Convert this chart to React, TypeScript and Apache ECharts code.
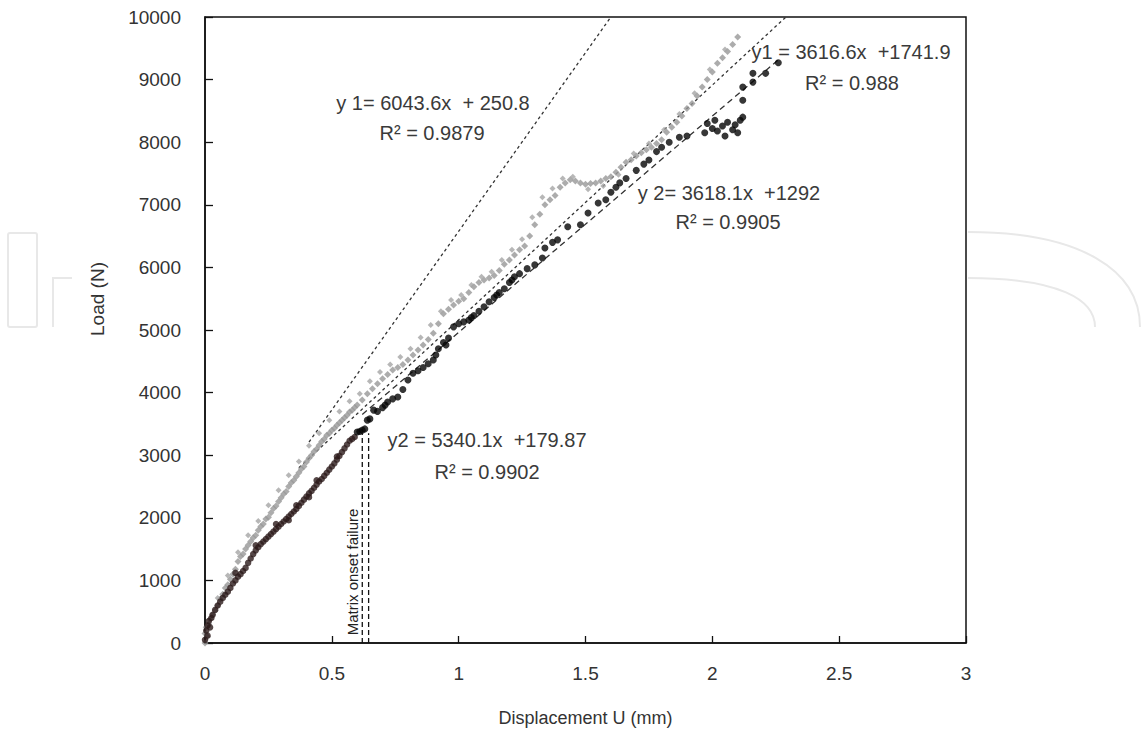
import React, { useEffect, useRef } from "react";
import * as echarts from "echarts";

// Series 1 (grey markers): [displacement mm, load N]
const greySeries: number[][] = [
  [0.0, 0], [0.0, 150], [0.005, 250], [0.01, 100], [0.015, 300], [0.02, 380], [0.03, 450], [0.04, 520],
  [0.05, 600], [0.06, 700], [0.07, 780], [0.08, 880], [0.09, 930], [0.1, 1020], [0.11, 1100], [0.12, 1180],
  [0.13, 1300], [0.14, 1380], [0.15, 1420], [0.16, 1500], [0.17, 1560], [0.18, 1620], [0.19, 1680], [0.2, 1720],
  [0.21, 1800], [0.22, 1860], [0.23, 1900], [0.24, 1980], [0.25, 2010], [0.26, 2080], [0.27, 2150], [0.28, 2190],
  [0.29, 2260], [0.3, 2320], [0.31, 2380], [0.32, 2420], [0.33, 2500], [0.34, 2560], [0.35, 2600], [0.36, 2660],
  [0.37, 2720], [0.38, 2780], [0.39, 2820], [0.4, 2890], [0.41, 2950], [0.42, 3000], [0.43, 3060], [0.44, 3100],
  [0.45, 3160], [0.46, 3220], [0.47, 3260], [0.48, 3320], [0.49, 3350], [0.5, 3400], [0.51, 3430], [0.52, 3480],
  [0.53, 3520], [0.54, 3560], [0.55, 3600], [0.56, 3640], [0.57, 3690], [0.58, 3720], [0.59, 3760], [0.6, 3800],
  [0.62, 3880], [0.64, 3980], [0.66, 4060], [0.68, 4140], [0.7, 4220], [0.72, 4290], [0.74, 4360], [0.76, 4400],
  [0.78, 4450], [0.8, 4520], [0.82, 4600], [0.84, 4680], [0.86, 4760], [0.88, 4850], [0.9, 4950], [0.92, 5100],
  [0.94, 5260], [0.96, 5330], [0.98, 5400], [1.0, 5460], [1.02, 5500], [1.04, 5600], [1.06, 5690], [1.08, 5760],
  [1.1, 5800], [1.12, 5830], [1.14, 5870], [1.16, 5950], [1.18, 6050], [1.2, 6120], [1.22, 6200], [1.24, 6280],
  [1.26, 6340], [1.28, 6500], [1.3, 6680], [1.32, 6850], [1.34, 7000], [1.36, 7080], [1.38, 7150], [1.4, 7280],
  [1.42, 7350], [1.44, 7400], [1.46, 7380], [1.48, 7350], [1.5, 7330], [1.52, 7340], [1.54, 7350], [1.56, 7380],
  [1.58, 7420], [1.6, 7450], [1.62, 7520], [1.64, 7600], [1.66, 7680], [1.68, 7720], [1.7, 7780], [1.72, 7830],
  [1.74, 7880], [1.76, 7920], [1.78, 7980], [1.8, 8040], [1.82, 8160], [1.84, 8240], [1.86, 8320], [1.88, 8420],
  [1.9, 8540], [1.92, 8620], [1.94, 8740], [1.96, 8880], [1.98, 9000], [2.0, 9120], [2.02, 9260], [2.04, 9350],
  [2.06, 9450], [2.08, 9560], [2.1, 9680],
];

// Series 1, scattered readings around the main band
const greyScatter: number[][] = [
  [0.05, 720], [0.09, 1080], [0.13, 1450], [0.17, 1720], [0.21, 1950], [0.25, 2200], [0.29, 2440],
  [0.33, 2680], [0.37, 2900], [0.41, 3150], [0.45, 3350], [0.49, 3560], [0.53, 3700], [0.57, 3860],
  [0.61, 3980], [0.65, 4180], [0.69, 4330], [0.73, 4450], [0.77, 4570], [0.81, 4700], [0.85, 4880],
  [0.89, 5080], [0.93, 5300], [0.97, 5480], [1.01, 5560], [1.05, 5720], [1.09, 5850], [1.13, 5930],
  [1.17, 6120], [1.21, 6280], [1.25, 6450], [1.29, 6800], [1.33, 7120], [1.37, 7260], [1.41, 7420],
  [1.45, 7450], [1.51, 7250], [1.57, 7300], [1.63, 7480], [1.69, 7820], [1.75, 7980], [1.81, 8200],
  [1.87, 8450], [1.93, 8780], [1.99, 9160], [2.05, 9480],
];

// Series 2, first part (dark brown markers)
const blackEarly: number[][] = [
  [0.0, 50], [0.005, 200], [0.01, 280], [0.01, 120], [0.015, 350], [0.02, 250], [0.025, 400], [0.03, 450],
  [0.04, 530], [0.05, 600], [0.06, 660], [0.07, 720], [0.08, 770], [0.09, 820], [0.1, 880], [0.11, 950],
  [0.12, 1000], [0.13, 1060], [0.14, 1100], [0.15, 1150], [0.16, 1200], [0.17, 1280], [0.18, 1350], [0.19, 1420],
  [0.2, 1480], [0.21, 1530], [0.22, 1580], [0.23, 1620], [0.24, 1660], [0.25, 1700], [0.26, 1740], [0.27, 1780],
  [0.28, 1820], [0.29, 1860], [0.3, 1900], [0.31, 1940], [0.32, 1980], [0.33, 2020], [0.34, 2060], [0.35, 2100],
  [0.36, 2140], [0.37, 2190], [0.38, 2240], [0.39, 2290], [0.4, 2340], [0.41, 2390], [0.42, 2430], [0.43, 2480],
  [0.44, 2530], [0.45, 2580], [0.46, 2620], [0.47, 2670], [0.48, 2720], [0.49, 2770], [0.5, 2820], [0.51, 2870],
  [0.52, 2930], [0.53, 2990], [0.54, 3050], [0.55, 3110], [0.56, 3170], [0.57, 3230], [0.58, 3260], [0.59, 3290],
  [0.12, 1120], [0.2, 1560], [0.28, 1900], [0.36, 2200], [0.44, 2600], [0.52, 2980], [0.33, 1960], [0.41, 2330],
];

// Series 2, after matrix onset failure (black markers)
const blackLate: number[][] = [
  [0.6, 3370], [0.61, 3380], [0.62, 3400], [0.63, 3420], [0.64, 3560], [0.65, 3580], [0.665, 3720], [0.68, 3700],
  [0.7, 3760], [0.72, 3850], [0.74, 3900], [0.76, 3930], [0.78, 4050], [0.8, 4200], [0.82, 4310], [0.84, 4350],
  [0.86, 4400], [0.88, 4460], [0.9, 4520], [0.92, 4700], [0.94, 4800], [0.96, 4870], [0.98, 5050], [1.0, 5100],
  [1.02, 5130], [1.04, 5160], [1.06, 5230], [1.08, 5300], [1.1, 5370], [1.12, 5450], [1.14, 5520], [1.16, 5600],
  [1.18, 5660], [1.2, 5760], [1.22, 5850], [1.24, 5900], [1.27, 5980], [1.3, 6040], [1.33, 6150], [1.34, 6310],
  [1.37, 6400], [1.39, 6440], [1.43, 6650], [1.48, 6680], [1.51, 6870], [1.55, 7030], [1.58, 7080], [1.6, 7200],
  [1.62, 7280], [1.635, 7350], [1.66, 7420], [1.7, 7550], [1.73, 7650], [1.75, 7715], [1.78, 7850], [1.8, 7920],
  [1.83, 8000], [1.87, 8080], [1.9, 8100], [1.97, 8150], [1.98, 8300], [2.0, 8220], [2.01, 8350], [2.02, 8180],
  [2.04, 8260], [2.05, 8100], [2.06, 8320], [2.08, 8200], [2.09, 8280], [2.1, 8150], [2.11, 8350], [2.12, 8400],
  [2.12, 8670], [2.12, 8880], [2.16, 8960], [2.16, 9100], [2.21, 9100], [2.26, 9270],
  [0.71, 3800], [0.91, 4600], [0.95, 4760], [1.05, 5200], [1.15, 5560], [1.21, 5800],
];

// Trend lines (end points as drawn)
const trendY1Initial: number[][] = [[0.41, 3210], [1.6, 10000]];
const trendY1Late: number[][] = [[0.37, 2800], [2.29, 10000]];
const trendY2Late: number[][] = [[0.62, 3650], [2.27, 9350]];
const onsetLineA: number[][] = [[0.62, 0], [0.62, 3350]];
const onsetLineB: number[][] = [[0.645, 0], [0.645, 3350]];

const xTicks = { min: 0, max: 3, interval: 0.5 };
const yTicks = { min: 0, max: 10000, interval: 1000 };

const annotations: { text: string; x: number; y: number }[] = [
  { text: "y 1= 6043.6x  + 250.8", x: 433, y: 103 },
  { text: "R\u00B2 = 0.9879", x: 432, y: 133 },
  { text: "y1 = 3616.6x  +1741.9", x: 851, y: 52 },
  { text: "R\u00B2 = 0.988", x: 852, y: 83 },
  { text: "y 2= 3618.1x  +1292", x: 729, y: 193 },
  { text: "R\u00B2 = 0.9905", x: 728, y: 222 },
  { text: "y2 = 5340.1x  +179.87", x: 487, y: 440 },
  { text: "R\u00B2 = 0.9902", x: 487, y: 472 },
];

const FONT = "Liberation Sans";

export default function App() {
  const ref = useRef<HTMLDivElement>(null);
  useEffect(() => {
    if (!ref.current) return;
    const chart = echarts.init(ref.current, undefined, { renderer: "svg" });
    const lineSeries = (data: number[][], type: any, color = "#333") => ({
      type: "line",
      data,
      symbol: "none",
      silent: true,
      z: 1,
      lineStyle: { color, width: 1.3, type },
    });
    const wm = "#e8e8e8";
    chart.setOption({
      animation: false,
      backgroundColor: "#fff",
      grid: {
        left: 205,
        top: 17,
        width: 761,
        height: 626,
        show: true,
        borderColor: "#111",
        borderWidth: 1.5,
        backgroundColor: "#fff",
      },
      xAxis: {
        type: "value",
        ...xTicks,
        name: "Displacement U (mm)",
        nameLocation: "middle",
        nameGap: 66,
        nameTextStyle: { fontFamily: FONT, fontSize: 18, color: "#333" },
        axisLine: { show: true, lineStyle: { color: "#111", width: 1.5 } },
        axisTick: { show: true, inside: true, length: 7, lineStyle: { color: "#111", width: 1.3 } },
        axisLabel: { fontFamily: FONT, fontSize: 19, color: "#333", margin: 21 },
        splitLine: { show: false },
      },
      yAxis: {
        type: "value",
        ...yTicks,
        axisLine: { show: true, lineStyle: { color: "#111", width: 1.5 } },
        axisTick: { show: true, inside: true, length: 8, lineStyle: { color: "#111", width: 1.3 } },
        axisLabel: { fontFamily: FONT, fontSize: 19, color: "#333", margin: 24, formatter: (v: number) => String(v) },
        splitLine: { show: false },
      },
      series: [
        lineSeries(trendY1Initial, [3, 3]),
        lineSeries(trendY1Late, [3, 3]),
        lineSeries(trendY2Late, [6, 4]),
        lineSeries(onsetLineA, [5, 3], "#111"),
        lineSeries(onsetLineB, [5, 3], "#111"),
        {
          type: "scatter",
          data: greySeries,
          symbol: "diamond",
          symbolSize: 7,
          itemStyle: { color: "#979797" },
          z: 2,
        },
        {
          type: "scatter",
          data: greyScatter,
          symbol: "diamond",
          symbolSize: 6,
          itemStyle: { color: "#a5a5a5" },
          z: 2,
        },
        {
          type: "scatter",
          data: blackEarly,
          symbol: "circle",
          symbolSize: 6.5,
          itemStyle: { color: "#2c1a1a" },
          z: 3,
        },
        {
          type: "scatter",
          data: blackLate,
          symbol: "circle",
          symbolSize: 7,
          itemStyle: { color: "#050505" },
          z: 3,
        },
      ],
      graphic: [
        { type: "rect", shape: { x: 8, y: 233, width: 29, height: 94, r: 2 }, style: { fill: "none", stroke: wm, lineWidth: 2 }, z: -10 },
        { type: "polyline", shape: { points: [[53, 327], [53, 278], [72, 278]] }, style: { fill: "none", stroke: wm, lineWidth: 2 }, z: -10 },
        { type: "bezierCurve", shape: { x1: 968, y1: 232, x2: 1140, y2: 327, cpx1: 1080, cpy1: 232, cpx2: 1140, cpy2: 270 }, style: { fill: "none", stroke: wm, lineWidth: 2 }, z: -10 },
        { type: "bezierCurve", shape: { x1: 968, y1: 278, x2: 1095, y2: 327, cpx1: 1060, cpy1: 278, cpx2: 1095, cpy2: 300 }, style: { fill: "none", stroke: wm, lineWidth: 2 }, z: -10 },
        ...annotations.map((a) => ({
          type: "text",
          x: a.x,
          y: a.y,
          z: 10,
          style: { text: a.text, fontFamily: FONT, fontSize: 20, fill: "#3a3a3a", align: "center", verticalAlign: "middle" },
        })),
        {
          type: "text",
          x: 352,
          y: 572,
          rotation: Math.PI / 2,
          z: 10,
          style: { text: "Matrix onset failure", fontFamily: FONT, fontSize: 15, fill: "#222", align: "center", verticalAlign: "middle" },
        },
        {
          type: "text",
          x: 97,
          y: 299,
          rotation: Math.PI / 2,
          z: 10,
          style: { text: "Load (N)", fontFamily: FONT, fontSize: 19, fill: "#333", align: "center", verticalAlign: "middle" },
        },
      ],
    });
    return () => chart.dispose();
  }, []);
  return <div ref={ref} style={{ position: "fixed", left: 0, top: 0, width: 1146, height: 738 }} />;
}
